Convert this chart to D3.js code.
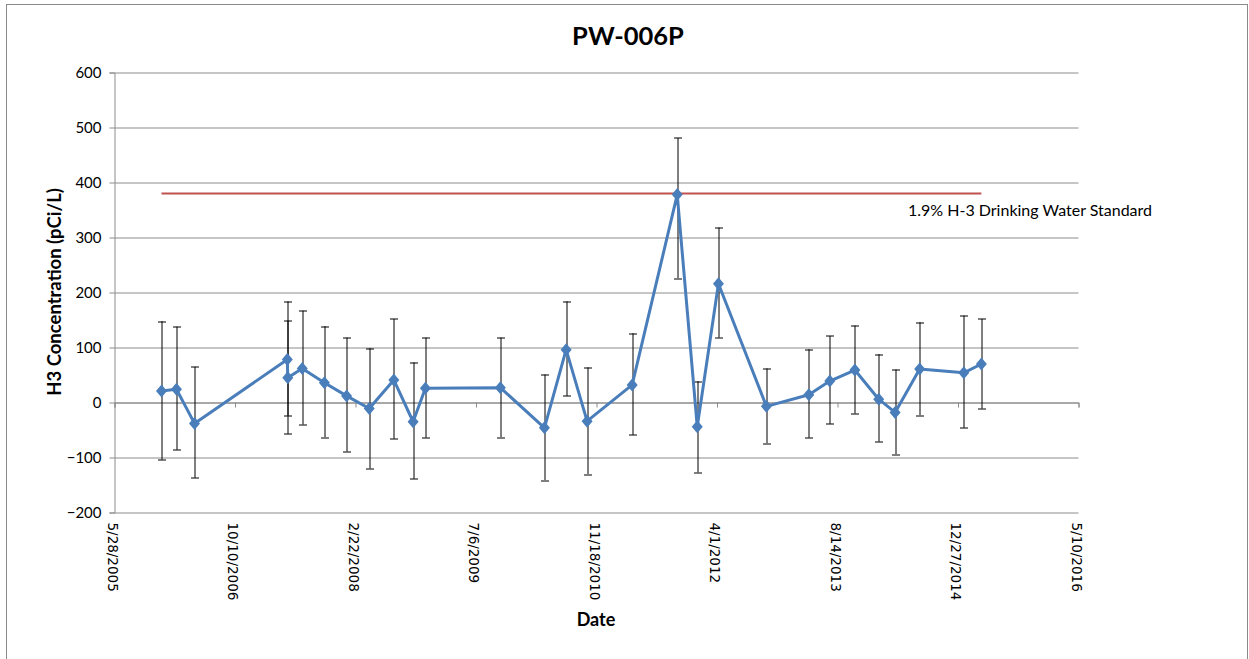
<!DOCTYPE html>
<html>
<head>
<meta charset="utf-8">
<script src="https://cdn.jsdelivr.net/npm/d3@7/dist/d3.min.js"></script>
<style>
  body { margin: 0; background: #fff; }
  svg { display: block; }
  .lbl { font-family: Lato, "Open Sans", sans-serif; fill: #000; }
</style>
</head>
<body>
<div id="chart"></div>
<script>
// sample dates, results and error (+/-)
var dates = ["2005-12-09", "2006-02-09", "2006-04-25", "2007-05-15", "2007-05-17", "2007-07-16",
    "2007-10-16", "2008-01-16", "2008-04-19", "2008-07-30", "2008-10-18", "2008-12-08",
    "2009-10-15", "2010-04-16", "2010-07-15", "2010-10-10", "2011-04-15", "2011-10-19",
    "2012-01-10", "2012-04-07", "2012-10-23", "2013-04-17", "2013-07-13", "2013-10-25",
    "2014-02-01", "2014-04-10", "2014-07-21", "2015-01-20", "2015-04-03"];
var values = [21, 24, -38, 78, 45, 62, 36, 12, -11, 41, -35, 26, 27, -46, 96, -34, 32, 378,
    -44, 216, -7, 14, 39, 59, 6, -18, 61, 54, 70];
var errUp = [127, 114, 103, 106, 104, 105, 103, 106, 110, 111, 108, 92, 91, 97, 88, 98, 94, 103,
    83, 102, 69, 83, 82, 81, 82, 78, 85, 104, 82];
var errDown = [125, 110, 99, 102, 102, 102, 99, 101, 109, 107, 104, 90, 90, 95, 84, 96, 91, 152,
    83, 98, 67, 78, 78, 79, 77, 76, 84, 100, 81];
var yTicks = [-200, -100, 0, 100, 200, 300, 400, 500, 600];
var xStart = "2005-05-28", xEnd = "2016-05-10", xStepDays = 500;
var standardValue = 380;
var standardLabel = "1.9% H-3 Drinking Water Standard";

var W = 1249, H = 659;
var padLeft = 114.5, padTop = 72.5, w = 964, h = 440;

var parse = d3.timeParse("%Y-%m-%d");
var fmt = d3.timeFormat("%-m/%-d/%Y");
var data = dates.map(function (d, i) {
    return { date: parse(d), v: values[i], up: errUp[i], down: errDown[i] };
});

var svg = d3.select("#chart").append("svg")
    .attr("width", W)
    .attr("height", H);

// chart frame
svg.append("rect")
    .attr("x", 6.5).attr("y", 4.5)
    .attr("width", 1241).attr("height", 670)
    .attr("fill", "none")
    .attr("stroke", "#8a8a8a");

var x = d3.scaleTime().domain([parse(xStart), parse(xEnd)]).range([0, w]);
var y = d3.scaleLinear().domain([-200, 600]).range([h, 0]);

var xTicks = d3.range(0, 4001, xStepDays).map(function (n) {
    return d3.timeDay.offset(parse(xStart), n);
});

var g = svg.append("g").attr("transform", "translate(" + padLeft + "," + padTop + ")");

// gridlines
g.append("g")
    .call(d3.axisLeft(y).tickValues(yTicks).tickSize(-w).tickFormat(""))
    .call(function (s) {
        s.select(".domain").remove();
        s.selectAll("line").attr("stroke", "#8c8c8c");
    });

// y axis
g.append("g")
    .call(d3.axisLeft(y).tickValues(yTicks).tickSize(5).tickPadding(8))
    .call(function (s) {
        s.select(".domain").attr("stroke", "#8c8c8c");
        s.selectAll("line").attr("stroke", "#8c8c8c");
        s.selectAll("text")
            .attr("class", "lbl")
            .style("font-size", "15px")
            .attr("fill", "#000");
    });

// x axis crossing at zero
g.append("g")
    .attr("transform", "translate(0," + y(0) + ")")
    .call(d3.axisBottom(x).tickValues(xTicks).tickSize(5).tickFormat(""))
    .call(function (s) {
        s.select(".domain").attr("stroke", "#8c8c8c");
        s.selectAll("line").attr("stroke", "#8c8c8c");
    });

// date labels at the bottom, rotated
g.append("g").selectAll("text")
    .data(xTicks)
    .enter()
    .append("text")
    .attr("transform", function (d) {
        return "translate(" + (x(d) - 2) + "," + (h + 10) + ") rotate(90)";
    })
    .attr("dy", "0.35em")
    .style("font-family", "'DejaVu Sans', Verdana, sans-serif")
    .style("font-size", "13.5px")
    .attr("fill", "#000")
    .text(function (d) { return fmt(d); });

// drinking water standard
g.append("line")
    .attr("x1", x(data[0].date))
    .attr("x2", x(data[data.length - 1].date))
    .attr("y1", y(standardValue))
    .attr("y2", y(standardValue))
    .attr("stroke", "#c0504d")
    .attr("stroke-width", 2);

g.append("text")
    .attr("class", "lbl")
    .attr("x", 908 - padLeft)
    .attr("y", 216 - padTop)
    .style("font-size", "16px")
    .text(standardLabel);

// error bars
var bars = g.append("g").selectAll("g")
    .data(data)
    .enter()
    .append("g")
    .attr("stroke", "#000")
    .attr("stroke-width", 1);

bars.append("line")
    .attr("x1", function (d) { return Math.round(x(d.date)) + 0.5; })
    .attr("x2", function (d) { return Math.round(x(d.date)) + 0.5; })
    .attr("y1", function (d) { return y(d.v + d.up); })
    .attr("y2", function (d) { return y(d.v - d.down); });

bars.append("line")
    .attr("x1", function (d) { return Math.round(x(d.date)) - 3.5; })
    .attr("x2", function (d) { return Math.round(x(d.date)) + 4.5; })
    .attr("y1", function (d) { return Math.round(y(d.v + d.up)) + 0.5; })
    .attr("y2", function (d) { return Math.round(y(d.v + d.up)) + 0.5; });

bars.append("line")
    .attr("x1", function (d) { return Math.round(x(d.date)) - 3.5; })
    .attr("x2", function (d) { return Math.round(x(d.date)) + 4.5; })
    .attr("y1", function (d) { return Math.round(y(d.v - d.down)) + 0.5; })
    .attr("y2", function (d) { return Math.round(y(d.v - d.down)) + 0.5; });

// series line
var line = d3.line()
    .x(function (d) { return x(d.date); })
    .y(function (d) { return y(d.v); });

g.append("path")
    .datum(data)
    .attr("d", line)
    .attr("fill", "none")
    .attr("stroke", "#4a7ebb")
    .attr("stroke-width", 3)
    .attr("stroke-linejoin", "round");

g.append("g").selectAll("path")
    .data(data)
    .enter()
    .append("path")
    .attr("transform", function (d) { return "translate(" + x(d.date) + "," + y(d.v) + ")"; })
    .attr("d", "M0,-6.5L5.5,0L0,6.5L-5.5,0Z")
    .attr("fill", "#4a7ebb");

// titles
svg.append("text")
    .attr("class", "lbl")
    .attr("x", 628)
    .attr("y", 45)
    .attr("text-anchor", "middle")
    .style("font-size", "25.5px")
    .style("font-weight", "bold")
    .text("PW-006P");

svg.append("text")
    .attr("class", "lbl")
    .attr("transform", "translate(61,292) rotate(-90)")
    .attr("text-anchor", "middle")
    .style("font-size", "18.5px")
    .style("font-weight", "bold")
    .text("H3 Concentration (pCi/L)");

svg.append("text")
    .attr("class", "lbl")
    .attr("x", 596)
    .attr("y", 626)
    .attr("text-anchor", "middle")
    .style("font-size", "18px")
    .style("font-weight", "bold")
    .text("Date");
</script>
</body>
</html>
